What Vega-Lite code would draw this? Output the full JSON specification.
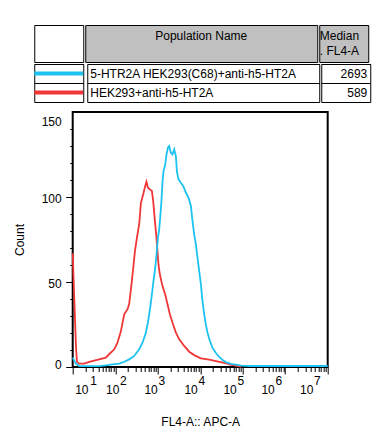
{
  "$schema": "https://vega.github.io/schema/vega-lite/v6.json",
  "padding": {"left": 12, "top": 24, "right": 5, "bottom": 5},
  "background": "white",
  "config": {
    "font": "Liberation Sans",
    "view": {"stroke": "black", "strokeWidth": 1, "fill": "white"},
    "axis": {"labelFont": "Liberation Sans", "titleFont": "Liberation Sans", "labelFontSize": 12, "titleFontSize": 12, "labelColor": "black", "titleColor": "black", "titleFontWeight": "normal", "tickColor": "black", "domainColor": "black"},
    "text": {"font": "Liberation Sans", "fontSize": 12, "color": "black"}
  },
  "datasets": {
    "populations": [
      {"population": "5-HTR2A HEK293(C68)+anti-h5-HT2A", "median": 2693},
      {"population": "HEK293+anti-h5-HT2A", "median": 589}
    ],
    "histogram": [
      {"population": "HEK293+anti-h5-HT2A", "fl4a": 10, "count": 67},
      {"population": "HEK293+anti-h5-HT2A", "fl4a": 10.9, "count": 40},
      {"population": "HEK293+anti-h5-HT2A", "fl4a": 11.4, "count": 26},
      {"population": "HEK293+anti-h5-HT2A", "fl4a": 12.0, "count": 11},
      {"population": "HEK293+anti-h5-HT2A", "fl4a": 12.6, "count": 3},
      {"population": "HEK293+anti-h5-HT2A", "fl4a": 14.2, "count": 2},
      {"population": "HEK293+anti-h5-HT2A", "fl4a": 18.7, "count": 2},
      {"population": "HEK293+anti-h5-HT2A", "fl4a": 24.5, "count": 3},
      {"population": "HEK293+anti-h5-HT2A", "fl4a": 42, "count": 4.5},
      {"population": "HEK293+anti-h5-HT2A", "fl4a": 60, "count": 5.5},
      {"population": "HEK293+anti-h5-HT2A", "fl4a": 72, "count": 7.5},
      {"population": "HEK293+anti-h5-HT2A", "fl4a": 95, "count": 10.4},
      {"population": "HEK293+anti-h5-HT2A", "fl4a": 113, "count": 14.3},
      {"population": "HEK293+anti-h5-HT2A", "fl4a": 136, "count": 21},
      {"population": "HEK293+anti-h5-HT2A", "fl4a": 163, "count": 31},
      {"population": "HEK293+anti-h5-HT2A", "fl4a": 195, "count": 34},
      {"population": "HEK293+anti-h5-HT2A", "fl4a": 213, "count": 37},
      {"population": "HEK293+anti-h5-HT2A", "fl4a": 242, "count": 48.6},
      {"population": "HEK293+anti-h5-HT2A", "fl4a": 270, "count": 60},
      {"population": "HEK293+anti-h5-HT2A", "fl4a": 291, "count": 68},
      {"population": "HEK293+anti-h5-HT2A", "fl4a": 324, "count": 76},
      {"population": "HEK293+anti-h5-HT2A", "fl4a": 367, "count": 84},
      {"population": "HEK293+anti-h5-HT2A", "fl4a": 403, "count": 96.6},
      {"population": "HEK293+anti-h5-HT2A", "fl4a": 456, "count": 101.6},
      {"population": "HEK293+anti-h5-HT2A", "fl4a": 508, "count": 106.5},
      {"population": "HEK293+anti-h5-HT2A", "fl4a": 545, "count": 109},
      {"population": "HEK293+anti-h5-HT2A", "fl4a": 588, "count": 105.5},
      {"population": "HEK293+anti-h5-HT2A", "fl4a": 655, "count": 104.5},
      {"population": "HEK293+anti-h5-HT2A", "fl4a": 731, "count": 103.5},
      {"population": "HEK293+anti-h5-HT2A", "fl4a": 784, "count": 97.6},
      {"population": "HEK293+anti-h5-HT2A", "fl4a": 859, "count": 86},
      {"population": "HEK293+anti-h5-HT2A", "fl4a": 937, "count": 76},
      {"population": "HEK293+anti-h5-HT2A", "fl4a": 989, "count": 68},
      {"population": "HEK293+anti-h5-HT2A", "fl4a": 1045, "count": 60},
      {"population": "HEK293+anti-h5-HT2A", "fl4a": 1102, "count": 56},
      {"population": "HEK293+anti-h5-HT2A", "fl4a": 1146, "count": 53.5},
      {"population": "HEK293+anti-h5-HT2A", "fl4a": 1297, "count": 47.6},
      {"population": "HEK293+anti-h5-HT2A", "fl4a": 1500, "count": 42.7},
      {"population": "HEK293+anti-h5-HT2A", "fl4a": 1702, "count": 36.9},
      {"population": "HEK293+anti-h5-HT2A", "fl4a": 1937, "count": 31},
      {"population": "HEK293+anti-h5-HT2A", "fl4a": 2230, "count": 26},
      {"population": "HEK293+anti-h5-HT2A", "fl4a": 2679, "count": 20.2},
      {"population": "HEK293+anti-h5-HT2A", "fl4a": 3206, "count": 16.3},
      {"population": "HEK293+anti-h5-HT2A", "fl4a": 4204, "count": 12.4},
      {"population": "HEK293+anti-h5-HT2A", "fl4a": 5513, "count": 9},
      {"population": "HEK293+anti-h5-HT2A", "fl4a": 7224, "count": 7},
      {"population": "HEK293+anti-h5-HT2A", "fl4a": 10380, "count": 5.1},
      {"population": "HEK293+anti-h5-HT2A", "fl4a": 16290, "count": 4.3},
      {"population": "HEK293+anti-h5-HT2A", "fl4a": 23390, "count": 3.5},
      {"population": "HEK293+anti-h5-HT2A", "fl4a": 30670, "count": 2.9},
      {"population": "HEK293+anti-h5-HT2A", "fl4a": 40270, "count": 2.2},
      {"population": "HEK293+anti-h5-HT2A", "fl4a": 48130, "count": 1.6},
      {"population": "HEK293+anti-h5-HT2A", "fl4a": 66640, "count": 0.8},
      {"population": "HEK293+anti-h5-HT2A", "fl4a": 92260, "count": 0.3},
      {"population": "5-HTR2A HEK293(C68)+anti-h5-HT2A", "fl4a": 10, "count": 5.5},
      {"population": "5-HTR2A HEK293(C68)+anti-h5-HT2A", "fl4a": 11.9, "count": 2},
      {"population": "5-HTR2A HEK293(C68)+anti-h5-HT2A", "fl4a": 14.2, "count": 0.6},
      {"population": "5-HTR2A HEK293(C68)+anti-h5-HT2A", "fl4a": 24.5, "count": 0.5},
      {"population": "5-HTR2A HEK293(C68)+anti-h5-HT2A", "fl4a": 42, "count": 0.5},
      {"population": "5-HTR2A HEK293(C68)+anti-h5-HT2A", "fl4a": 60, "count": 1},
      {"population": "5-HTR2A HEK293(C68)+anti-h5-HT2A", "fl4a": 86, "count": 1.6},
      {"population": "5-HTR2A HEK293(C68)+anti-h5-HT2A", "fl4a": 124, "count": 2},
      {"population": "5-HTR2A HEK293(C68)+anti-h5-HT2A", "fl4a": 163, "count": 3.1},
      {"population": "5-HTR2A HEK293(C68)+anti-h5-HT2A", "fl4a": 213, "count": 4.5},
      {"population": "5-HTR2A HEK293(C68)+anti-h5-HT2A", "fl4a": 280, "count": 6.5},
      {"population": "5-HTR2A HEK293(C68)+anti-h5-HT2A", "fl4a": 367, "count": 10.4},
      {"population": "5-HTR2A HEK293(C68)+anti-h5-HT2A", "fl4a": 439, "count": 14.3},
      {"population": "5-HTR2A HEK293(C68)+anti-h5-HT2A", "fl4a": 527, "count": 20.2},
      {"population": "5-HTR2A HEK293(C68)+anti-h5-HT2A", "fl4a": 597, "count": 27},
      {"population": "5-HTR2A HEK293(C68)+anti-h5-HT2A", "fl4a": 666, "count": 35},
      {"population": "5-HTR2A HEK293(C68)+anti-h5-HT2A", "fl4a": 731, "count": 42.7},
      {"population": "5-HTR2A HEK293(C68)+anti-h5-HT2A", "fl4a": 797, "count": 50.6},
      {"population": "5-HTR2A HEK293(C68)+anti-h5-HT2A", "fl4a": 873, "count": 58.4},
      {"population": "5-HTR2A HEK293(C68)+anti-h5-HT2A", "fl4a": 937, "count": 66},
      {"population": "5-HTR2A HEK293(C68)+anti-h5-HT2A", "fl4a": 1012, "count": 76},
      {"population": "5-HTR2A HEK293(C68)+anti-h5-HT2A", "fl4a": 1084, "count": 81},
      {"population": "5-HTR2A HEK293(C68)+anti-h5-HT2A", "fl4a": 1146, "count": 88},
      {"population": "5-HTR2A HEK293(C68)+anti-h5-HT2A", "fl4a": 1228, "count": 98},
      {"population": "5-HTR2A HEK293(C68)+anti-h5-HT2A", "fl4a": 1297, "count": 109},
      {"population": "5-HTR2A HEK293(C68)+anti-h5-HT2A", "fl4a": 1368, "count": 115},
      {"population": "5-HTR2A HEK293(C68)+anti-h5-HT2A", "fl4a": 1500, "count": 119},
      {"population": "5-HTR2A HEK293(C68)+anti-h5-HT2A", "fl4a": 1611, "count": 125},
      {"population": "5-HTR2A HEK293(C68)+anti-h5-HT2A", "fl4a": 1738, "count": 129},
      {"population": "5-HTR2A HEK293(C68)+anti-h5-HT2A", "fl4a": 1857, "count": 130},
      {"population": "5-HTR2A HEK293(C68)+anti-h5-HT2A", "fl4a": 2046, "count": 126},
      {"population": "5-HTR2A HEK293(C68)+anti-h5-HT2A", "fl4a": 2230, "count": 125},
      {"population": "5-HTR2A HEK293(C68)+anti-h5-HT2A", "fl4a": 2443, "count": 128},
      {"population": "5-HTR2A HEK293(C68)+anti-h5-HT2A", "fl4a": 2679, "count": 124},
      {"population": "5-HTR2A HEK293(C68)+anti-h5-HT2A", "fl4a": 2832, "count": 115},
      {"population": "5-HTR2A HEK293(C68)+anti-h5-HT2A", "fl4a": 3086, "count": 110.4},
      {"population": "5-HTR2A HEK293(C68)+anti-h5-HT2A", "fl4a": 3513, "count": 108.4},
      {"population": "5-HTR2A HEK293(C68)+anti-h5-HT2A", "fl4a": 3981, "count": 106.5},
      {"population": "5-HTR2A HEK293(C68)+anti-h5-HT2A", "fl4a": 4609, "count": 102.5},
      {"population": "5-HTR2A HEK293(C68)+anti-h5-HT2A", "fl4a": 5309, "count": 99.6},
      {"population": "5-HTR2A HEK293(C68)+anti-h5-HT2A", "fl4a": 6043, "count": 94.7},
      {"population": "5-HTR2A HEK293(C68)+anti-h5-HT2A", "fl4a": 6590, "count": 86},
      {"population": "5-HTR2A HEK293(C68)+anti-h5-HT2A", "fl4a": 7224, "count": 78},
      {"population": "5-HTR2A HEK293(C68)+anti-h5-HT2A", "fl4a": 7925, "count": 72},
      {"population": "5-HTR2A HEK293(C68)+anti-h5-HT2A", "fl4a": 8636, "count": 64.3},
      {"population": "5-HTR2A HEK293(C68)+anti-h5-HT2A", "fl4a": 9462, "count": 56.5},
      {"population": "5-HTR2A HEK293(C68)+anti-h5-HT2A", "fl4a": 10380, "count": 48.6},
      {"population": "5-HTR2A HEK293(C68)+anti-h5-HT2A", "fl4a": 11320, "count": 38.8},
      {"population": "5-HTR2A HEK293(C68)+anti-h5-HT2A", "fl4a": 12410, "count": 31},
      {"population": "5-HTR2A HEK293(C68)+anti-h5-HT2A", "fl4a": 13600, "count": 25},
      {"population": "5-HTR2A HEK293(C68)+anti-h5-HT2A", "fl4a": 14850, "count": 20.2},
      {"population": "5-HTR2A HEK293(C68)+anti-h5-HT2A", "fl4a": 16910, "count": 15.3},
      {"population": "5-HTR2A HEK293(C68)+anti-h5-HT2A", "fl4a": 19460, "count": 11.4},
      {"population": "5-HTR2A HEK293(C68)+anti-h5-HT2A", "fl4a": 23390, "count": 8.2},
      {"population": "5-HTR2A HEK293(C68)+anti-h5-HT2A", "fl4a": 27980, "count": 5.9},
      {"population": "5-HTR2A HEK293(C68)+anti-h5-HT2A", "fl4a": 33490, "count": 4.1},
      {"population": "5-HTR2A HEK293(C68)+anti-h5-HT2A", "fl4a": 40270, "count": 2.9},
      {"population": "5-HTR2A HEK293(C68)+anti-h5-HT2A", "fl4a": 52700, "count": 1.9},
      {"population": "5-HTR2A HEK293(C68)+anti-h5-HT2A", "fl4a": 69180, "count": 1.4},
      {"population": "5-HTR2A HEK293(C68)+anti-h5-HT2A", "fl4a": 92260, "count": 0.8},
      {"population": "5-HTR2A HEK293(C68)+anti-h5-HT2A", "fl4a": 142200, "count": 0.6},
      {"population": "5-HTR2A HEK293(C68)+anti-h5-HT2A", "fl4a": 722800, "count": 0.6},
      {"population": "5-HTR2A HEK293(C68)+anti-h5-HT2A", "fl4a": 3670000, "count": 0.6},
      {"population": "5-HTR2A HEK293(C68)+anti-h5-HT2A", "fl4a": 10000000, "count": 0.6}
    ]
  },
  "vconcat": [
    {
      "vconcat": [
        {
          "hconcat": [
            {"width": 49, "height": 37, "data": {"values": [{"heading": ""}]}, "mark": {"type": "text"},
             "encoding": {"y": {"field": "heading", "type": "nominal", "axis": null, "scale": {"type": "band", "paddingInner": 0, "paddingOuter": 0}}, "text": {"field": "heading"}}},
            {"width": 232, "height": 37, "view": {"fill": "#c0c0c0"}, "data": {"values": [{"heading": "Population Name"}]}, "mark": {"type": "text", "baseline": "alphabetic", "dy": -4},
             "encoding": {"y": {"field": "heading", "type": "nominal", "axis": null, "scale": {"type": "band", "paddingInner": 0, "paddingOuter": 0}}, "text": {"field": "heading"}}},
            {"width": 49, "height": 37, "view": {"fill": "#c0c0c0"}, "data": {"values": [{"heading": "Median\n. FL4-A"}]}, "mark": {"type": "text", "align": "left", "dx": -24, "baseline": "alphabetic", "dy": -4, "lineBreak": "\n", "lineHeight": 15},
             "encoding": {"y": {"field": "heading", "type": "nominal", "axis": null, "scale": {"type": "band", "paddingInner": 0, "paddingOuter": 0}}, "text": {"field": "heading"}}}
          ],
          "spacing": 0
        },
        {
          "hconcat": [
            {"width": 49, "height": 38, "data": {"name": "populations"}, "mark": {"type": "rule", "strokeWidth": 4},
             "encoding": {
               "y": {"field": "population", "type": "nominal", "sort": null, "scale": {"type": "band", "paddingInner": 0, "paddingOuter": 0}, "axis": {"domain": false, "ticks": false, "labels": false, "title": null, "grid": true, "gridColor": "black", "gridWidth": 1, "bandPosition": 0}},
               "color": {"field": "population", "type": "nominal", "scale": {"domain": ["5-HTR2A HEK293(C68)+anti-h5-HT2A", "HEK293+anti-h5-HT2A"], "range": ["#1cc3f0", "#f03636"]}, "legend": null}
             }},
            {"width": 232, "height": 38, "data": {"name": "populations"}, "mark": {"type": "text", "align": "left", "dx": -113, "baseline": "middle"},
             "encoding": {
               "y": {"field": "population", "type": "nominal", "sort": null, "scale": {"type": "band", "paddingInner": 0, "paddingOuter": 0}, "axis": {"domain": false, "ticks": false, "labels": false, "title": null, "grid": true, "gridColor": "black", "gridWidth": 1, "bandPosition": 0}},
               "text": {"field": "population", "type": "nominal"}
             }},
            {"width": 49, "height": 38, "data": {"name": "populations"}, "mark": {"type": "text", "align": "right", "dx": 21.5, "baseline": "middle"},
             "encoding": {
               "y": {"field": "population", "type": "nominal", "sort": null, "scale": {"type": "band", "paddingInner": 0, "paddingOuter": 0}, "axis": {"domain": false, "ticks": false, "labels": false, "title": null, "grid": true, "gridColor": "black", "gridWidth": 1, "bandPosition": 0}},
               "text": {"field": "median", "type": "quantitative", "format": "d"}
             }}
          ],
          "spacing": 0
        }
      ],
      "spacing": 0
    },
    {
      "width": 255,
      "height": 255,
      "view": {"stroke": "black", "strokeWidth": 2},
      "data": {"name": "histogram"},
      "layer": [
        {
          "transform": [{"filter": "datum.population == 'HEK293+anti-h5-HT2A'"}],
          "mark": {"type": "line", "strokeWidth": 1.8},
          "encoding": {
            "x": {"field": "fl4a", "type": "quantitative", "scale": {"type": "log", "domain": [10, 10000000], "nice": false},
                  "axis": {"orient": "bottom", "values": [10,20,30,40,50,60,70,80,90,100,200,300,400,500,600,700,800,900,1000,2000,3000,4000,5000,6000,7000,8000,9000,10000,20000,30000,40000,50000,60000,70000,80000,90000,100000,200000,300000,400000,500000,600000,700000,800000,900000,1000000,2000000,3000000,4000000,5000000,6000000,7000000,8000000,9000000,10000000],
                           "title": null, "domain": false, "grid": false, "tickSize": 4.5,
                           "tickOpacity": {"condition": {"test": "abs(log(datum.value) / LN10 - round(log(datum.value) / LN10)) < 0.001", "value": 0}, "value": 1},
                           "labelExpr": "abs(log(datum.value) / LN10 - round(log(datum.value) / LN10)) < 0.001 ? '' + round(log(datum.value) / LN10) : ''",
                           "labelAlign": "left", "labelBaseline": "top", "labelPadding": 3.5, "labelFlush": false, "labelOverlap": false, "labelBound": false,
                           "labelOffset": {"expr": "[0, 17, 4.4, 0.2, -2.3, -5.8, -10.3, -14.1][round(log(datum.value) / LN10)]"}}},
            "y": {"field": "count", "type": "quantitative", "scale": {"domain": [0, 150], "nice": false},
                  "axis": {"orient": "left", "values": [10,20,30,40,60,70,80,90,110,120,130,140], "title": null, "labels": false, "domain": false, "grid": false, "tickSize": 3}},
            "color": {"field": "population", "type": "nominal", "scale": {"domain": ["5-HTR2A HEK293(C68)+anti-h5-HT2A", "HEK293+anti-h5-HT2A"], "range": ["#1cc3f0", "#f03636"]}, "legend": null}
          }
        },
        {
          "transform": [{"filter": "datum.population != 'HEK293+anti-h5-HT2A'"}],
          "mark": {"type": "line", "strokeWidth": 1.8},
          "encoding": {
            "x": {"field": "fl4a", "type": "quantitative", "scale": {"type": "log", "domain": [10, 10000000], "nice": false},
                  "axis": {"orient": "bottom", "values": [10,100,1000,10000,100000,1000000,10000000], "title": "FL4-A:: APC-A", "domain": false, "grid": false, "tickSize": 7,
                           "labelAlign": "left", "labelBaseline": "top", "labelPadding": 10, "labelFlush": false, "labelOverlap": false, "labelBound": false,
                           "labelExpr": "'10'",
                           "labelOffset": {"expr": "[0, 2, -9.6, -13.8, -16.3, -19.8, -24.3, -28.1][round(log(datum.value) / LN10)]"},
                           "titlePadding": 21}},
            "y": {"field": "count", "type": "quantitative", "scale": {"domain": [0, 150], "nice": false},
                  "axis": {"orient": "left", "values": [0, 50, 100, 150], "title": "Count", "domain": false, "grid": false, "tickSize": 7, "labelPadding": 4.5,
                           "labelOffset": {"expr": "datum.value == 150 ? 9 : datum.value == 0 ? -3 : 1.5"},
                           "tickOpacity": {"condition": {"test": "datum.value == 150", "value": 0}, "value": 1},
                           "titlePadding": 15}},
            "color": {"field": "population", "type": "nominal", "scale": {"domain": ["5-HTR2A HEK293(C68)+anti-h5-HT2A", "HEK293+anti-h5-HT2A"], "range": ["#1cc3f0", "#f03636"]}, "legend": null}
          }
        }
      ],
      "resolve": {"axis": {"x": "independent", "y": "independent"}}
    }
  ],
  "spacing": 8,
  "bounds": "full",
  "center": true,
  "resolve": {"scale": {"x": "independent", "y": "independent", "color": "shared"}}
}
